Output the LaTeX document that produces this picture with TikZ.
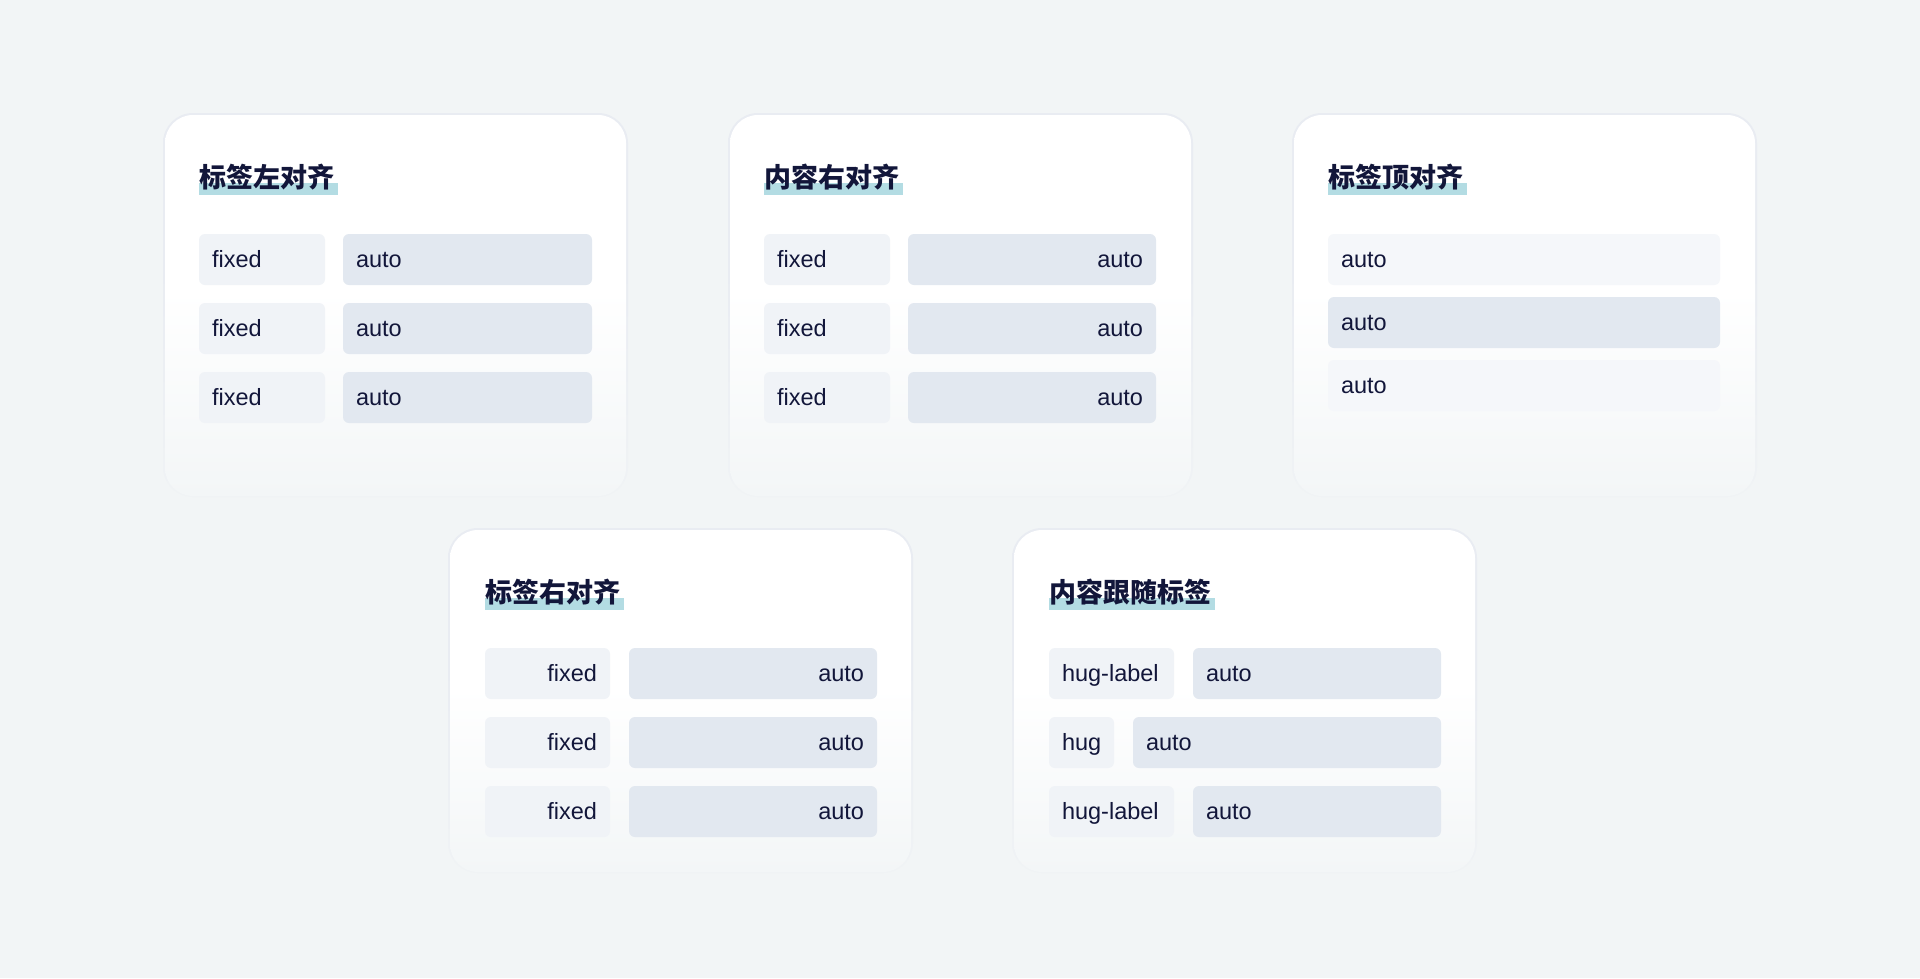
\documentclass[tikz,border=0pt]{standalone}
\usepackage{fontspec}
\newfontfamily\cjk{Noto Sans CJK SC}
\newfontfamily\rowfam{Liberation Sans}
\usetikzlibrary{calc}
\definecolor{bgc}{HTML}{F2F5F6}
\definecolor{cardtop}{HTML}{FFFFFF}
\definecolor{cardbot}{HTML}{F3F6F7}
\definecolor{edgetop}{HTML}{E9ECF2}
\definecolor{edgebot}{HTML}{F0F3F5}
\definecolor{labelfill}{HTML}{F0F3F7}
\definecolor{autofill}{HTML}{E2E8F0}
\definecolor{autolite}{HTML}{F5F7FA}
\definecolor{barc}{HTML}{B3DCE3}
\definecolor{ink}{HTML}{12163A}
\pgfdeclareverticalshading{cardfill}{100bp}{color(0bp)=(cardbot); color(25bp)=(cardbot); color(52bp)=(cardtop); color(100bp)=(cardtop)}
\pgfdeclareverticalshading{edgefill}{100bp}{color(0bp)=(edgebot); color(25bp)=(edgebot); color(55bp)=(edgetop); color(100bp)=(edgetop)}
\tikzset{
  cardedge/.style={anchor=north west, shade, shading=edgefill, draw=none, rounded corners=30pt, inner sep=0pt, outer sep=0pt},
  cardbody/.style={anchor=north west, shade, shading=cardfill, draw=none, rounded corners=28pt, inner sep=0pt, outer sep=0pt},
  ttl/.style={anchor=base west, inner sep=0pt, outer sep=0pt, text=ink, font=\cjk\bfseries\fontsize{27}{30}\selectfont},
  cell/.style={anchor=north west, rounded corners=6pt, inner xsep=13pt, inner ysep=0pt, outer sep=0pt, minimum height=51pt, text height=18pt, text depth=3pt, font=\rowfam\fontsize{23.5}{28}\selectfont, text=ink},
  lab/.style={cell, fill=labelfill, align=left},
  labr/.style={cell, fill=labelfill, align=right},
  aut/.style={cell, fill=autofill, align=left},
  autr/.style={cell, fill=autofill, align=right},
  autl/.style={cell, fill=autolite, align=left},
}
\begin{document}
\begin{tikzpicture}[x=1pt,y=-1pt]
\useasboundingbox (0,0) rectangle (1920,978);
\fill[bgc] (0,0) rectangle (1920,978);

% cards
\node[cardedge, minimum width=465pt, minimum height=384pt] (c1e) at (163,113) {};
\node[cardbody, minimum width=461pt, minimum height=381pt] (c1) at (165,115) {};
\node[cardedge, minimum width=465pt, minimum height=384pt] (c2e) at (728,113) {};
\node[cardbody, minimum width=461pt, minimum height=381pt] (c2) at (730,115) {};
\node[cardedge, minimum width=465pt, minimum height=384pt] (c3e) at (1292,113) {};
\node[cardbody, minimum width=461pt, minimum height=381pt] (c3) at (1294,115) {};
\node[cardedge, minimum width=465pt, minimum height=345pt] (c4e) at (448,528) {};
\node[cardbody, minimum width=461pt, minimum height=342pt] (c4) at (450,530) {};
\node[cardedge, minimum width=465pt, minimum height=345pt] (c5e) at (1012,528) {};
\node[cardbody, minimum width=461pt, minimum height=342pt] (c5) at (1014,530) {};

% title highlight bars + titles
\node[ttl, opacity=0] (t1g) at (199,187) {标签左对齐};
\fill[barc] ($(t1g.base west)+(0,-4)$) rectangle ($(t1g.base east)+(4,8)$);
\node[ttl] (t1) at (199,187) {标签左对齐};
\node[ttl, opacity=0] (t2g) at (764,187) {内容右对齐};
\fill[barc] ($(t2g.base west)+(0,-4)$) rectangle ($(t2g.base east)+(4,8)$);
\node[ttl] (t2) at (764,187) {内容右对齐};
\node[ttl, opacity=0] (t3g) at (1328,187) {标签顶对齐};
\fill[barc] ($(t3g.base west)+(0,-4)$) rectangle ($(t3g.base east)+(4,8)$);
\node[ttl] (t3) at (1328,187) {标签顶对齐};
\node[ttl, opacity=0] (t4g) at (485,602) {标签右对齐};
\fill[barc] ($(t4g.base west)+(0,-4)$) rectangle ($(t4g.base east)+(4,8)$);
\node[ttl] (t4) at (485,602) {标签右对齐};
\node[ttl, opacity=0] (t5g) at (1049,602) {内容跟随标签};
\fill[barc] ($(t5g.base west)+(0,-4)$) rectangle ($(t5g.base east)+(4,8)$);
\node[ttl] (t5) at (1049,602) {内容跟随标签};

% card 1: label left
\node[lab, text width=100pt] (c1l1) at (199,234) {fixed};
\node[aut, text width=223pt] (c1a1) at (343,234) {auto};
\node[lab, text width=100pt] (c1l2) at (199,303) {fixed};
\node[aut, text width=223pt] (c1a2) at (343,303) {auto};
\node[lab, text width=100pt] (c1l3) at (199,372) {fixed};
\node[aut, text width=223pt] (c1a3) at (343,372) {auto};

% card 2: content right
\node[lab, text width=100pt] (c2l1) at (764,234) {fixed};
\node[autr, text width=222pt] (c2a1) at (908,234) {auto};
\node[lab, text width=100pt] (c2l2) at (764,303) {fixed};
\node[autr, text width=222pt] (c2a2) at (908,303) {auto};
\node[lab, text width=100pt] (c2l3) at (764,372) {fixed};
\node[autr, text width=222pt] (c2a3) at (908,372) {auto};

% card 3: label top
\node[autl, text width=366pt] (c3a1) at (1328,234) {auto};
\node[aut, text width=366pt] (c3a2) at (1328,297) {auto};
\node[autl, text width=366pt] (c3a3) at (1328,360) {auto};

% card 4: label right
\node[labr, text width=99pt] (c4l1) at (485,648) {fixed};
\node[autr, text width=222pt] (c4a1) at (629,648) {auto};
\node[labr, text width=99pt] (c4l2) at (485,717) {fixed};
\node[autr, text width=222pt] (c4a2) at (629,717) {auto};
\node[labr, text width=99pt] (c4l3) at (485,786) {fixed};
\node[autr, text width=222pt] (c4a3) at (629,786) {auto};

% card 5: content follows label
\node[lab, text width=99pt] (c5l1) at (1049,648) {hug-label};
\node[aut, text width=222pt] (c5a1) at (1193,648) {auto};
\node[lab, text width=39pt] (c5l2) at (1049,717) {hug};
\node[aut, text width=282pt] (c5a2) at (1133,717) {auto};
\node[lab, text width=99pt] (c5l3) at (1049,786) {hug-label};
\node[aut, text width=222pt] (c5a3) at (1193,786) {auto};
\end{tikzpicture}
\end{document}
